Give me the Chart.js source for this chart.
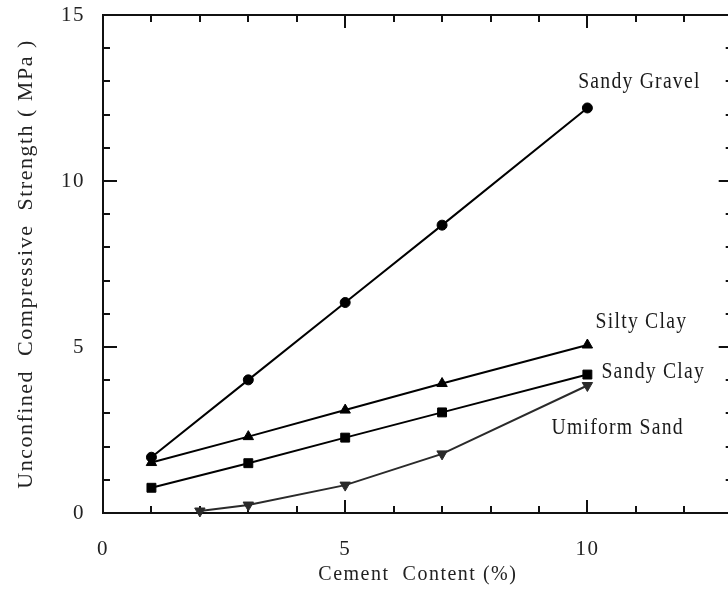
<!DOCTYPE html>
<html>
<head>
<meta charset="utf-8">
<script src="https://cdn.jsdelivr.net/npm/chart.js@4"></script>
<style>
  html, body { margin: 0; padding: 0; background: #fff; overflow: hidden; }
</style>
</head>
<body>
<canvas id="plot" width="740" height="599"></canvas>
<script>
// cement content (%) for each soil
let cement = [1, 3, 5, 7, 10];
let cementSand = [2, 3, 5, 7, 10];

// unconfined compressive strength (MPa)
let sandyGravel = [1.68, 4.01, 6.34, 8.67, 12.2];
let siltyClay = [1.52, 2.30, 3.10, 3.90, 5.06];
let sandyClay = [0.76, 1.50, 2.27, 3.03, 4.17];
let uniformSand = [0.06, 0.24, 0.84, 1.78, 3.84];

let seriesNames = ["Sandy Gravel", "Silty Clay", "Sandy Clay", "Umiform Sand"];
// where each name is written, in axis units (left edge, middle)
let nameX = [9.81, 10.17, 10.29, 9.26];
let nameY = [12.98, 5.75, 4.25, 2.56];

let xTicks = [0, 5, 10];

let FONT = "'Liberation Serif', 'DejaVu Serif', serif";

let pts = (xs, ys) => xs.map((v, i) => ({ x: v, y: ys[i] }));

let serie = (label, data, style, radius, rot, color) => ({
  label: label,
  data: data,
  borderColor: color,
  borderWidth: 2,
  backgroundColor: color,
  pointStyle: style,
  pointRadius: radius,
  pointRotation: rot,
  pointBackgroundColor: color,
  pointBorderColor: color,
  pointBorderWidth: 1,
  tension: 0,
  clip: false,
});

// frame with inward ticks on all four sides
let marcoPlugin = {
  id: "marco",
  beforeDraw(chart) {
    chart.ctx.letterSpacing = "1.5px";
  },
  beforeDatasetsDraw(chart) {
    let { ctx, chartArea: a, scales } = chart;
    let x = scales.x, y = scales.y;
    let seg = (x1, y1, x2, y2) => {
      ctx.beginPath();
      ctx.moveTo(x1, y1);
      ctx.lineTo(x2, y2);
      ctx.stroke();
    };
    ctx.save();
    ctx.strokeStyle = "#111";
    ctx.lineWidth = 2;
    ctx.strokeRect(a.left, a.top, a.right - a.left, a.bottom - a.top);
    for (let v = 0; v <= 13; v++) {
      let px = Math.round(x.getPixelForValue(v));
      let len = v % 5 === 0 ? 13 : 7;
      seg(px, a.bottom, px, a.bottom - len);
      seg(px, a.top, px, a.top + len);
    }
    for (let v = 0; v <= 15; v++) {
      let py = Math.round(y.getPixelForValue(v));
      let len = v % 5 === 0 ? 14 : 7;
      seg(a.left, py, a.left + len, py);
      seg(a.right, py, a.right - len, py);
    }
    ctx.restore();
  },
  afterDatasetsDraw(chart) {
    let { ctx, scales } = chart;
    ctx.save();
    ctx.fillStyle = "#1a1a1a";
    ctx.font = "24px " + FONT;
    ctx.letterSpacing = "1.5px";
    ctx.textAlign = "left";
    ctx.textBaseline = "middle";
    seriesNames.forEach((name, i) => {
      let px = scales.x.getPixelForValue(nameX[i]);
      let py = scales.y.getPixelForValue(nameY[i]);
      ctx.save();
      ctx.translate(px, py);
      ctx.scale(0.82, 1);
      ctx.fillText(name, 0, 0);
      ctx.restore();
    });
    ctx.restore();
  },
};

let plotRef = document.getElementById("plot");

let config = {
  type: "line",
  data: {
    datasets: [
      serie(seriesNames[0], pts(cement, sandyGravel), "circle", 5, 0, "#000"),
      serie(seriesNames[1], pts(cement, siltyClay), "triangle", 6, 0, "#000"),
      serie(seriesNames[2], pts(cement, sandyClay), "rect", 6.3, 0, "#000"),
      serie(seriesNames[3], pts(cementSand, uniformSand), "triangle", 6, 180, "#2a2a2a"),
    ],
  },
  options: {
    responsive: false,
    animation: false,
    layout: { padding: { top: 15, right: 7, left: 0, bottom: 0 } },
    plugins: { legend: { display: false }, tooltip: { enabled: false } },
    scales: {
      x: {
        type: "linear",
        min: 0,
        max: 13,
        afterBuildTicks: (s) => { s.ticks = xTicks.map((v) => ({ value: v })); },
        afterFit: (s) => { s.height = 86; s.paddingLeft = 0; s.paddingRight = 0; },
        grid: { display: false, drawTicks: false },
        border: { display: false },
        ticks: { padding: 24, color: "#222", maxRotation: 0, autoSkip: false, font: { family: FONT, size: 21 } },
        title: {
          display: true,
          text: "Cement  Content (%)",
          color: "#222",
          font: { family: FONT, size: 20 },
          padding: { top: 0, bottom: 12 },
        },
      },
      y: {
        type: "linear",
        min: 0,
        max: 15,
        afterFit: (s) => { s.width = 103; s.paddingTop = 0; s.paddingBottom = 0; },
        grid: { display: false, drawTicks: false },
        border: { display: false },
        ticks: { stepSize: 5, padding: 18, color: "#222", font: { family: FONT, size: 21 } },
        title: {
          display: true,
          text: "Unconfined  Compressive  Strength ( MPa )",
          color: "#222",
          font: { family: FONT, size: 22 },
          padding: { top: 13, bottom: 0 },
        },
      },
    },
  },
  plugins: [marcoPlugin],
};

let chart = new Chart(plotRef, config);
</script>
</body>
</html>
